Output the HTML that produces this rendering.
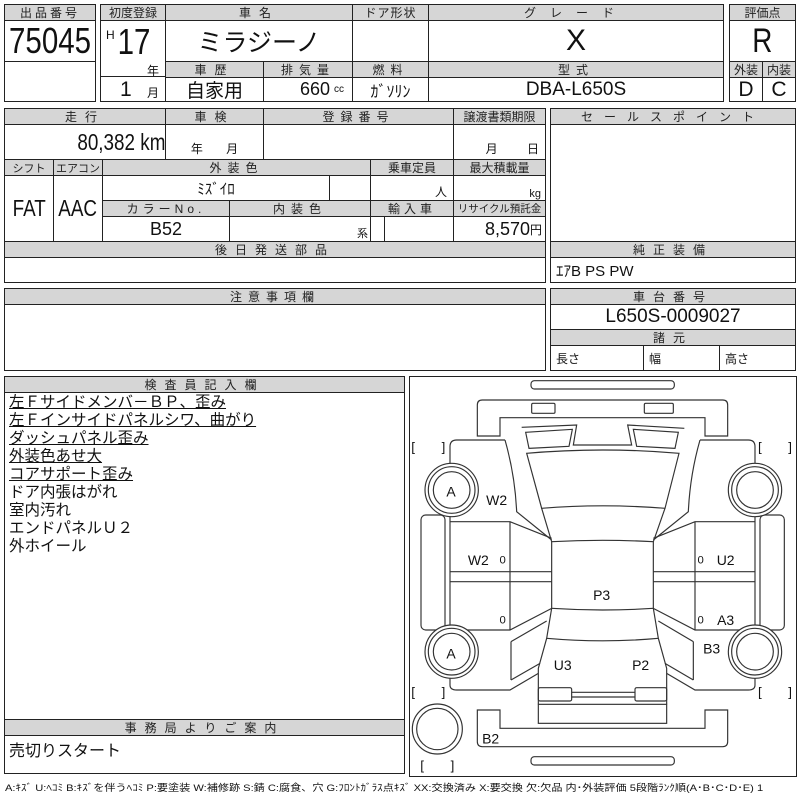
<!DOCTYPE html>
<html><head><meta charset="utf-8"><style>
*{margin:0;padding:0;box-sizing:border-box}
body{width:800px;height:800px;background:#fff;position:relative;overflow:hidden;font-family:"Liberation Sans","Noto Sans CJK JP",sans-serif;color:#111}
.c{position:absolute;border:1px solid #222;display:flex;align-items:center;justify-content:center;white-space:nowrap;background:#fff}
.h{background:#d6d6d6;font-size:12px;letter-spacing:3px;color:#222}
.t{position:absolute;white-space:nowrap}
.n{display:inline-block;transform:scaleX(0.82)}
.ins{position:absolute;left:9px;top:394px;font-size:15.5px;line-height:18px}
.ins div{height:18px}
.u{text-decoration:underline}
</style></head><body>
<!-- box1 -->
<div class="c" style="left:4px;top:4px;width:92px;height:98px"></div>
<div class="c h" style="left:4px;top:4px;width:92px;height:17px">出品番号</div>
<div class="c" style="left:4px;top:20px;width:92px;height:42px;font-size:36px"><span class="n">75045</span></div>
<!-- box2 -->
<div class="c h" style="left:100px;top:4px;width:66px;height:17px;letter-spacing:0">初度登録</div>
<div class="c h" style="left:165px;top:4px;width:188px;height:17px;letter-spacing:8px">車名</div>
<div class="c h" style="left:352px;top:4px;width:77px;height:17px;letter-spacing:1px">ドア形状</div>
<div class="c h" style="left:428px;top:4px;width:296px;height:17px;letter-spacing:14px">グレード</div>
<div class="c" style="left:100px;top:20px;width:66px;height:82px"></div>
<div class="c" style="left:100px;top:76px;width:66px;height:26px"></div>
<div class="t" style="left:106px;top:28px;font-size:12px">H</div>
<div class="t" style="left:114px;top:21px;font-size:36px"><span class="n">17</span></div>
<div class="t" style="left:147px;top:62px;font-size:12px">年</div>
<div class="t" style="left:120px;top:78px;font-size:21px">1</div>
<div class="t" style="left:147px;top:84px;font-size:12px">月</div>
<div class="c" style="left:165px;top:20px;width:188px;height:42px;font-size:25px">ミラジーノ</div>
<div class="c" style="left:352px;top:20px;width:77px;height:42px"></div>
<div class="c" style="left:428px;top:20px;width:296px;height:42px;font-size:30px">X</div>
<div class="c h" style="left:165px;top:61px;width:99px;height:17px;letter-spacing:8px">車歴</div>
<div class="c h" style="left:263px;top:61px;width:90px;height:17px;letter-spacing:6px">排気量</div>
<div class="c h" style="left:352px;top:61px;width:77px;height:17px;letter-spacing:6px">燃料</div>
<div class="c h" style="left:428px;top:61px;width:296px;height:17px;letter-spacing:6px">型式</div>
<div class="c" style="left:165px;top:77px;width:99px;height:25px;font-size:19px">自家用</div>
<div class="c" style="left:263px;top:77px;width:90px;height:25px;font-size:18px;justify-content:flex-end;padding-right:8px">660 <span style="font-size:10px;margin-left:4px">cc</span></div>
<div class="c" style="left:352px;top:77px;width:77px;height:25px;font-size:16px">ｶﾞｿﾘﾝ</div>
<div class="c" style="left:428px;top:77px;width:296px;height:25px;font-size:19px">DBA-L650S</div>
<!-- box3 -->
<div class="c h" style="left:729px;top:4px;width:67px;height:17px;letter-spacing:0">評価点</div>
<div class="c" style="left:729px;top:20px;width:67px;height:42px;font-size:34px"><span class="n">R</span></div>
<div class="c h" style="left:729px;top:61px;width:34px;height:17px;letter-spacing:0">外装</div>
<div class="c h" style="left:762px;top:61px;width:34px;height:17px;letter-spacing:0">内装</div>
<div class="c" style="left:729px;top:77px;width:34px;height:25px;font-size:21px">D</div>
<div class="c" style="left:762px;top:77px;width:34px;height:25px;font-size:21px">C</div>
<!-- section2 -->
<div class="c h" style="left:4px;top:108px;width:162px;height:17px;letter-spacing:8px">走行</div>
<div class="c h" style="left:165px;top:108px;width:99px;height:17px;letter-spacing:8px">車検</div>
<div class="c h" style="left:263px;top:108px;width:191px;height:17px;letter-spacing:6px">登録番号</div>
<div class="c h" style="left:453px;top:108px;width:93px;height:17px;letter-spacing:0">譲渡書類期限</div>
<div class="c" style="left:4px;top:124px;width:162px;height:36px;font-size:23px;justify-content:flex-end;padding-right:0px"><span class="n" style="transform-origin:right">80,382 km</span></div>
<div class="c" style="left:165px;top:124px;width:99px;height:36px;font-size:12px;align-items:flex-end;padding-bottom:2px;word-spacing:20px">年 月</div>
<div class="c" style="left:263px;top:124px;width:191px;height:36px"></div>
<div class="c" style="left:453px;top:124px;width:93px;height:36px;font-size:12px;align-items:flex-end;padding-bottom:2px;justify-content:flex-end;padding-right:6px;word-spacing:26px">月 日</div>
<div class="c h" style="left:4px;top:159px;width:50px;height:17px;letter-spacing:0;font-size:11px">シフト</div>
<div class="c h" style="left:53px;top:159px;width:50px;height:17px;letter-spacing:0;font-size:11px">エアコン</div>
<div class="c h" style="left:102px;top:159px;width:269px;height:17px;letter-spacing:6px">外装色</div>
<div class="c h" style="left:370px;top:159px;width:84px;height:17px;letter-spacing:0">乗車定員</div>
<div class="c h" style="left:453px;top:159px;width:93px;height:17px;letter-spacing:0">最大積載量</div>
<div class="c" style="left:4px;top:175px;width:50px;height:67px;font-size:23px"><span class="n">FAT</span></div>
<div class="c" style="left:53px;top:175px;width:50px;height:67px;font-size:23px"><span class="n">AAC</span></div>
<div class="c" style="left:102px;top:175px;width:228px;height:26px;font-size:15px">ﾐｽﾞｲﾛ</div>
<div class="c" style="left:329px;top:175px;width:42px;height:26px"></div>
<div class="c" style="left:370px;top:175px;width:84px;height:26px;font-size:12px;justify-content:flex-end;padding-right:6px;align-items:flex-end">人</div>
<div class="c" style="left:453px;top:175px;width:93px;height:26px;font-size:11px;justify-content:flex-end;padding-right:4px;align-items:flex-end">kg</div>
<div class="c h" style="left:102px;top:200px;width:128px;height:17px;letter-spacing:4px">カラーNo.</div>
<div class="c h" style="left:229px;top:200px;width:142px;height:17px;letter-spacing:6px">内装色</div>
<div class="c h" style="left:370px;top:200px;width:84px;height:17px;letter-spacing:4px">輸入車</div>
<div class="c h" style="left:453px;top:200px;width:93px;height:17px;letter-spacing:0;font-size:10.5px">リサイクル預託金</div>
<div class="c" style="left:102px;top:216px;width:128px;height:26px;font-size:18px">B52</div>
<div class="c" style="left:229px;top:216px;width:142px;height:26px;font-size:11px;justify-content:flex-end;padding-right:2px;align-items:flex-end">系</div>
<div class="c" style="left:370px;top:216px;width:15px;height:26px"></div>
<div class="c" style="left:384px;top:216px;width:70px;height:26px"></div>
<div class="c" style="left:453px;top:216px;width:93px;height:26px;font-size:18px;justify-content:flex-end;padding-right:3px">8,570<span style="font-size:12px">円</span></div>
<div class="c h" style="left:4px;top:241px;width:542px;height:17px;letter-spacing:8px">後日発送部品</div>
<div class="c" style="left:4px;top:257px;width:542px;height:26px"></div>
<div class="c" style="left:550px;top:108px;width:246px;height:134px"></div>
<div class="c h" style="left:550px;top:108px;width:246px;height:17px;letter-spacing:11px">セールスポイント</div>
<div class="c h" style="left:550px;top:241px;width:246px;height:17px;letter-spacing:8px">純正装備</div>
<div class="c" style="left:550px;top:257px;width:246px;height:26px;font-size:15px;justify-content:flex-start;padding-left:5px">ｴｱB PS PW</div>
<!-- section3 -->
<div class="c" style="left:4px;top:288px;width:542px;height:83px"></div>
<div class="c h" style="left:4px;top:288px;width:542px;height:17px;letter-spacing:6px">注意事項欄</div>
<div class="c h" style="left:550px;top:288px;width:246px;height:17px;letter-spacing:8px">車台番号</div>
<div class="c" style="left:550px;top:304px;width:246px;height:26px;font-size:19px">L650S-0009027</div>
<div class="c h" style="left:550px;top:329px;width:246px;height:17px;letter-spacing:8px">諸元</div>
<div class="c" style="left:550px;top:345px;width:94px;height:26px;font-size:12px;justify-content:flex-start;padding-left:5px">長さ</div>
<div class="c" style="left:643px;top:345px;width:77px;height:26px;font-size:12px;justify-content:flex-start;padding-left:5px">幅</div>
<div class="c" style="left:719px;top:345px;width:77px;height:26px;font-size:12px;justify-content:flex-start;padding-left:5px">高さ</div>
<!-- inspector -->
<div class="c" style="left:4px;top:376px;width:401px;height:398px"></div>
<div class="c h" style="left:4px;top:376px;width:401px;height:17px;letter-spacing:8px">検査員記入欄</div>
<div class="ins">
<div class="u">左Ｆサイドメンバ－ＢＰ、歪み</div>
<div class="u">左Ｆインサイドパネルシワ、曲がり</div>
<div class="u">ダッシュパネル歪み</div>
<div class="u">外装色あせ大</div>
<div class="u">コアサポート歪み</div>
<div>ドア内張はがれ</div>
<div>室内汚れ</div>
<div>エンドパネルＵ２</div>
<div>外ホイール</div>
</div>
<div class="c h" style="left:4px;top:719px;width:401px;height:17px;letter-spacing:8px">事務局よりご案内</div>
<div class="t" style="left:9px;top:737px;font-size:16px">売切りスタート</div>
<!-- diagram -->
<div class="c" style="left:409px;top:376px;width:388px;height:401px"></div>
<svg style="position:absolute;left:0;top:0" width="800" height="800">
<g transform="translate(405,375) scale(0.33333)" fill="none" stroke="#333" stroke-width="3.5" font-family="Liberation Sans, sans-serif" font-size="42">
<rect x="378" y="17" width="430" height="25" rx="10"/>
<rect x="378" y="1145" width="430" height="25" rx="10"/>
<path d="M217,183 L217,90 Q217,75 232,75 L953,75 Q968,75 968,90 L968,183 L900,183 L900,128 L285,128 L285,183 Z"/>
<rect x="380" y="85" width="70" height="30" rx="4"/>
<rect x="718" y="85" width="87" height="30" rx="4"/>
<path d="M217,1005 L285,1005 L285,1060 L900,1060 L900,1005 L968,1005 L968,1100 Q968,1115 953,1115 L232,1115 Q217,1115 217,1100 Z"/>
<path d="M300,195 L155,195 Q135,195 135,215 L135,930 Q135,945 155,945 L315,945 L400,895"/>
<path d="M885,195 L1030,195 Q1050,195 1050,215 L1050,930 Q1050,945 1030,945 L870,945 L785,895"/>
<path d="M300,195 Q330,300 335,410 L440,495"/>
<path d="M885,195 Q855,300 850,410 L745,495"/>
<path d="M350,157 L515,150 L505,210 L680,210 L668,150 L838,160"/>
<path d="M362,172 L502,163 L492,214 L372,220 Z"/>
<path d="M685,163 L820,172 L810,220 L695,214 Z"/>
<path d="M365,235 Q593,215 822,235 L780,400 Q593,385 410,400 Z"/>
<path d="M410,400 L440,500 L440,700 L425,790 L400,880 L400,988"/>
<path d="M780,400 L745,500 L745,700 L760,790 L785,880 L785,988"/>
<path d="M440,500 Q593,492 745,500"/>
<path d="M440,700 Q593,710 745,700"/>
<path d="M425,790 Q593,805 760,790"/>
<rect x="400" y="938" width="100" height="40" rx="5"/>
<rect x="690" y="938" width="95" height="40" rx="5"/>
<path d="M500,952 L690,952 M500,966 L690,966"/>
<rect x="400" y="988" width="385" height="57"/>
<path d="M135,440 L315,440 L440,490 M315,440 L315,765 M135,590 L440,590 M135,620 L440,620 M135,765 L315,765 L440,700"/>
<path d="M318,800 L425,738 M318,915 L405,865 M318,800 L318,915"/>
<path d="M1050,440 L870,440 L745,490 M870,440 L870,765 M1050,590 L745,590 M1050,620 L745,620 M1050,765 L870,765 L745,700"/>
<path d="M865,800 L760,738 M865,915 L780,865 M865,800 L865,915"/>
<rect x="48" y="420" width="72" height="345" rx="14"/>
<rect x="1065" y="420" width="73" height="345" rx="14"/>
<g fill="#fff">
<circle cx="140" cy="345" r="80"/><circle cx="140" cy="345" r="70"/><circle cx="140" cy="345" r="55"/>
<circle cx="140" cy="830" r="80"/><circle cx="140" cy="830" r="70"/><circle cx="140" cy="830" r="55"/>
<circle cx="1050" cy="345" r="80"/><circle cx="1050" cy="345" r="70"/><circle cx="1050" cy="345" r="55"/>
<circle cx="1050" cy="830" r="80"/><circle cx="1050" cy="830" r="70"/><circle cx="1050" cy="830" r="55"/>
<circle cx="97" cy="1062" r="75"/><circle cx="97" cy="1062" r="62"/>
</g>
<g stroke="none" fill="#111" text-anchor="middle">
<text x="138" y="365">A</text><text x="138" y="850">A</text>
<text x="275" y="390">W2</text><text x="220" y="570">W2</text>
<text x="293" y="565" font-size="34">0</text><text x="293" y="745" font-size="34">0</text>
<text x="887" y="565" font-size="34">0</text><text x="887" y="745" font-size="34">0</text>
<text x="962" y="570">U2</text><text x="962" y="750">A3</text><text x="920" y="835">B3</text>
<text x="590" y="675">P3</text><text x="473" y="885">U3</text><text x="707" y="885">P2</text><text x="257" y="1105">B2</text>
<text x="70" y="230" font-size="40">[　　]</text><text x="1110" y="230" font-size="40">[　　]</text>
<text x="70" y="965" font-size="40">[　　]</text><text x="1110" y="965" font-size="40">[　　]</text>
<text x="97" y="1185" font-size="40">[　　]</text>
</g>
</g>
</svg>
<div class="t" style="left:5px;top:780px;font-size:9.5px;transform:scaleX(1.17);transform-origin:left;">A:ｷｽﾞ U:ﾍｺﾐ B:ｷｽﾞを伴うﾍｺﾐ P:要塗装 W:補修跡 S:錆 C:腐食、穴 G:ﾌﾛﾝﾄｶﾞﾗｽ点ｷｽﾞ XX:交換済み X:要交換 欠:欠品 内･外装評価 5段階ﾗﾝｸ順(A･B･C･D･E) 1</div>
</body></html>
